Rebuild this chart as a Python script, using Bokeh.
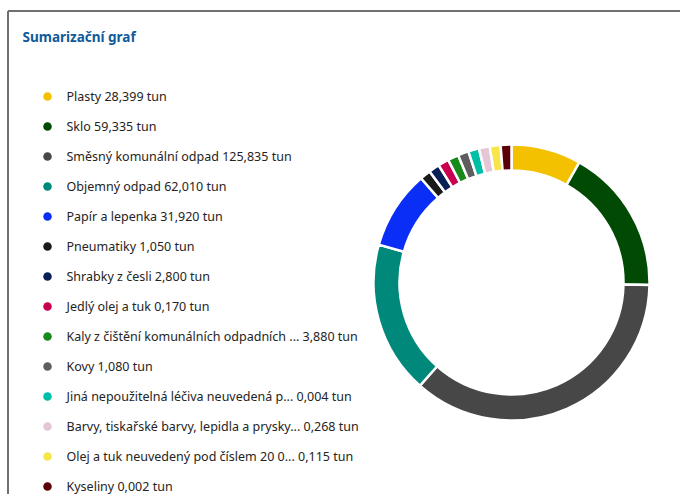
import math
from bokeh.plotting import figure
from bokeh.models import Range1d, ColumnDataSource
from bokeh.core.properties import value
from bokeh.embed import file_html
from bokeh.resources import INLINE

# ---- data ----
names = [
    "Plasty",
    "Sklo",
    "Směsný komunální odpad",
    "Objemný odpad",
    "Papír a lepenka",
    "Pneumatiky",
    "Shrabky z česli",
    "Jedlý olej a tuk",
    "Kaly z čištění komunálních odpadních ...",
    "Kovy",
    "Jiná nepoužitelná léčiva neuvedená p... ",
    "Barvy, tiskařské barvy, lepidla a prysky...",
    "Olej a tuk neuvedený pod číslem 20 0...",
    "Kyseliny",
]
tons = [28.399, 59.335, 125.835, 62.010, 31.920, 1.050, 2.800, 0.170,
        3.880, 1.080, 0.004, 0.268, 0.115, 0.002]
colors = ["#F4C100", "#004A04", "#474747", "#00897B", "#0A2EF5", "#1A1A1A",
          "#0A1F55", "#C8004F", "#188A1A", "#5E5E5E", "#00BFA5", "#E5C6D6",
          "#F7E54A", "#5C0008"]
title = "Sumarizační graf"

W, H = 680, 494

# ---- slice fractions with a minimum slice size ----
min_frac = 4.55 / 360.0
small = [False] * len(tons)
while True:
    big_sum = sum(t for t, s in zip(tons, small) if not s)
    rest = 1.0 - min_frac * sum(small)
    fr = [min_frac if s else t / big_sum * rest for t, s in zip(tons, small)]
    changed = False
    for i, f in enumerate(fr):
        if not small[i] and f < min_frac:
            small[i] = True
            changed = True
    if not changed:
        break

starts, ends = [], []
cum = 0.0
for f in fr:
    starts.append(math.pi / 2 - cum * 2 * math.pi)
    cum += f
    ends.append(math.pi / 2 - cum * 2 * math.pi)

p = figure(width=W, height=H, output_backend="svg", toolbar_location=None,
           x_range=Range1d(0, W), y_range=Range1d(0, H), min_border=0,
           background_fill_color="white", border_fill_color="white")
p.axis.visible = False
p.grid.visible = False
p.outline_line_color = None

# frame lines (top and left)
p.segment(x0=[7.5, 7.5], y0=[H - 10.5, 0], x1=[W, 7.5], y1=[H - 10.5, H - 10.5],
          line_color="#707070", line_width=2)

# donut
cx, cy = 511, H - 282
src = ColumnDataSource(dict(start=starts, end=ends, color=colors))
p.annular_wedge(x=cx, y=cy, inner_radius=112, outer_radius=138,
                start_angle="start", end_angle="end", direction="clock",
                fill_color="color", line_color="white", line_width=2.5,
                source=src)

# title
p.text(x=[22], y=[H - 36], text=[title], text_font=value("Noto Sans"),
       text_font_size="13.5px", text_font_style="bold", text_color="#0F5A9B",
       text_baseline="middle", text_align="left")

# legend
labels = [n + " " + f"{t:.3f}".replace(".", ",") + " tun" for n, t in zip(names, tons)]
ly = [H - (96 + 30 * i) for i in range(len(names))]
p.scatter(x=[47] * len(names), y=ly, size=8.5, fill_color=colors, line_color=None)
p.text(x=[66] * len(names), y=ly, text=labels, text_font=value("Noto Sans"),
       text_font_size="12.5px", text_color="#252423",
       text_baseline="middle", text_align="left")

open("out.html", "w").write(file_html(p, INLINE))
